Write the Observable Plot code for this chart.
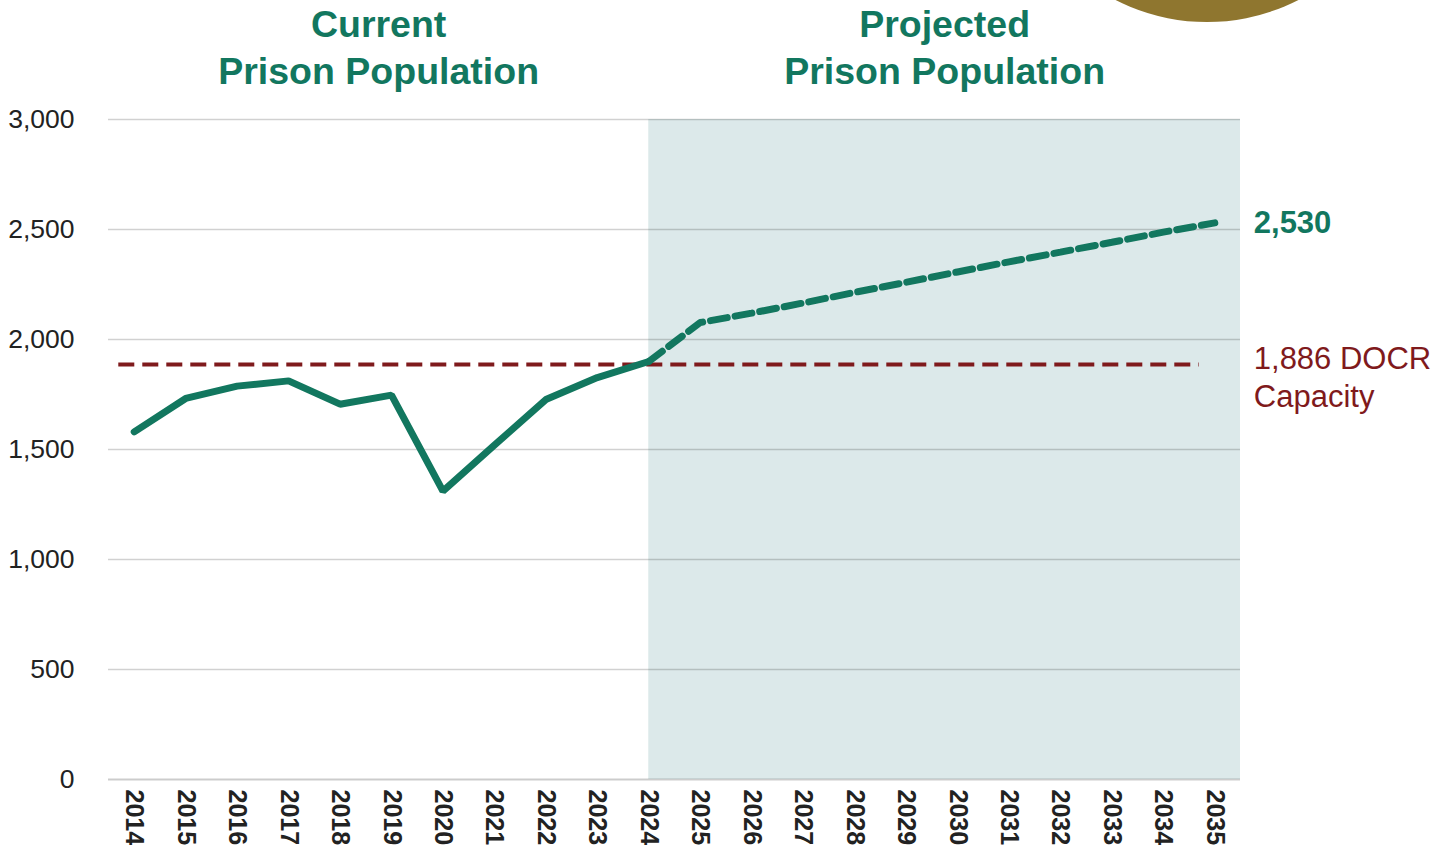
<!DOCTYPE html>
<html>
<head>
<meta charset="utf-8">
<script src="https://cdn.jsdelivr.net/npm/d3@7"></script>
<script src="https://cdn.jsdelivr.net/npm/@observablehq/plot@0.6"></script>
<style>
  html, body { margin: 0; padding: 0; background: #fff; overflow: hidden; }
  #wrap { position: relative; width: 1455px; height: 856px; overflow: hidden; }
  #badge { position: absolute; left: 1006px; top: -380px; width: 402px; height: 402px; border-radius: 50%; background: #8f762f; }
  #chart { position: absolute; left: 0; top: 0; }
</style>
</head>
<body>
<div id="wrap">
  <div id="chart"></div>
  <div id="badge"></div>
</div>
<script>
// ---- data ----
const years = [2014, 2015, 2016, 2017, 2018, 2019, 2020, 2021, 2022, 2023, 2024,
               2025, 2026, 2027, 2028, 2029, 2030, 2031, 2032, 2033, 2034, 2035];
const currentYears = [2014, 2015, 2016, 2017, 2018, 2019, 2020, 2021, 2022, 2023, 2024];
const currentValues = [1580, 1732, 1788, 1812, 1706, 1747, 1311, 1520, 1727, 1827, 1900];
const projectedYears = [2024, 2025, 2026, 2027, 2028, 2029, 2030, 2031, 2032, 2033, 2034, 2035];
const projectedValues = [1900, 2077, 2120, 2166, 2214, 2260, 2307, 2353, 2397, 2442, 2488, 2530];
const capacity = 1886;
const capacitySpan = [2013.7, 2034.7];
const projectionStart = 2024;
const yTicks = [0, 500, 1000, 1500, 2000, 2500, 3000];
const sectionTitles = [
  {x: 2018.75, label: "Current\nPrison Population"},
  {x: 2029.75, label: "Projected\nPrison Population"}
];
const endLabel = "2,530";
const capacityLabel = "1,886 DOCR\nCapacity";

// ---- styles ----
const green = "#12775f";
const red = "#7f1a1c";
const font = "'Liberation Sans', Arial, sans-serif";

const current = currentYears.map((y, i) => ({year: y, value: currentValues[i]}));
const projected = projectedYears.map((y, i) => ({year: y, value: projectedValues[i]}));
const xDomain = [years[0] - 0.5, years[years.length - 1] + 0.5];

const chart = Plot.plot({
  width: 1455,
  height: 856,
  marginTop: 119,
  marginBottom: 77,
  marginLeft: 108,
  marginRight: 215,
  style: {fontFamily: font, background: "transparent", overflow: "visible"},
  x: {type: "linear", domain: xDomain, label: null},
  y: {domain: [0, 3000], label: null},
  marks: [
    Plot.rect([{x1: projectionStart, x2: xDomain[1], y1: 0, y2: 3000}],
      {x1: "x1", x2: "x2", y1: "y1", y2: "y2", fill: "#dce9ea"}),
    Plot.ruleY(yTicks.filter(d => d > 0), {stroke: "#000", strokeOpacity: 0.18, strokeWidth: 1.5}),
    Plot.ruleY([0], {stroke: "#000", strokeOpacity: 0.2, strokeWidth: 2}),
    Plot.axisY({ticks: yTicks, tickSize: 0, tickPadding: 34, fontSize: 26.5, tickFormat: d3.format(","), color: "#222", label: null}),
    Plot.axisX({ticks: years, tickSize: 0, tickPadding: 10, tickRotate: 90, fontSize: 25, fontWeight: "bold", tickFormat: d => String(d), color: "#222", label: null}),
    Plot.ruleY([capacity], {x1: capacitySpan[0], x2: capacitySpan[1], stroke: red, strokeWidth: 4, strokeDasharray: "16,8"}),
    Plot.line(projected, {x: "year", y: "value", stroke: green, strokeWidth: 7, strokeDasharray: "17,8", strokeLinejoin: "miter"}),
    Plot.line(current, {x: "year", y: "value", stroke: green, strokeWidth: 7, strokeLinejoin: "miter"}),
    Plot.text([projected[projected.length - 1]], {x: "year", y: "value", text: () => endLabel, dx: 39, textAnchor: "start", fill: green, fontSize: 31, fontWeight: "bold"}),
    Plot.text([{year: years[years.length - 1], value: capacity}], {x: "year", y: "value", text: () => capacityLabel, dx: 39, dy: -23, textAnchor: "start", lineAnchor: "top", lineHeight: 1.24, fill: red, fontSize: 31}),
    Plot.text(sectionTitles, {x: "x", text: "label", frameAnchor: "top", lineAnchor: "top", dy: -116, lineHeight: 1.25, fill: green, fontSize: 37.5, fontWeight: "bold"})
  ]
});
document.getElementById("chart").appendChild(chart);
</script>
</body>
</html>
